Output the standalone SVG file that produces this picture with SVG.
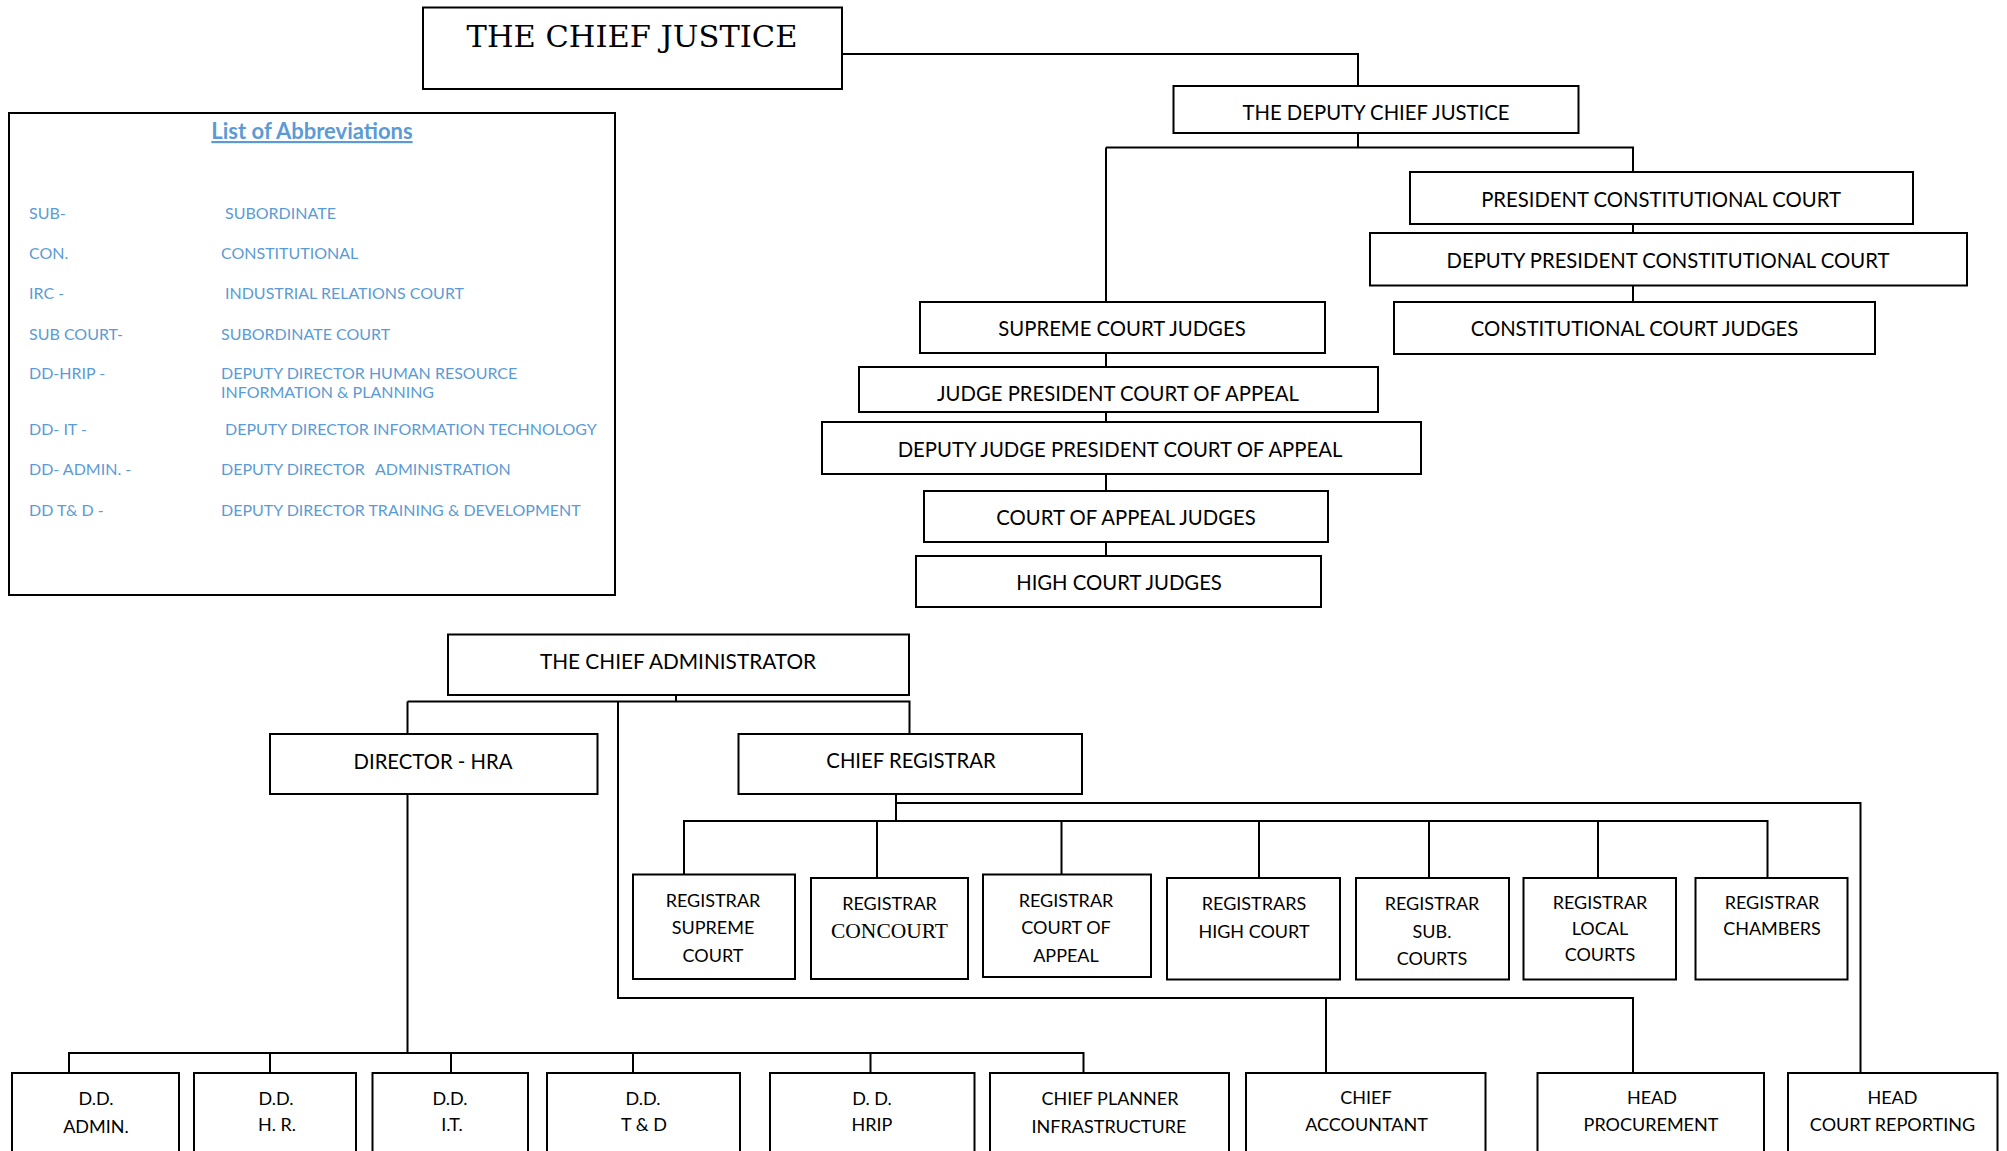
<svg xmlns="http://www.w3.org/2000/svg" width="2007" height="1151" viewBox="0 0 2007 1151">
<style>
.box{fill:#fff;stroke:#000;stroke-width:2}
.c{fill:none;stroke:#000;stroke-width:2}
.t{font-family:Lato,"Open Sans",sans-serif;font-size:20.3px;text-anchor:middle;fill:#000}
.ca{font-size:20.8px}
.s{font-family:Lato,"Open Sans",sans-serif;font-size:18px;text-anchor:middle;fill:#000}
.cj{font-family:"DejaVu Serif","Liberation Serif",serif;font-size:30.5px;text-anchor:middle;fill:#000}
.serif{font-family:"Liberation Serif",serif;font-size:21.5px}
.ab{font-family:Lato,"Open Sans",sans-serif;font-size:16px;fill:#5b9bd5}
.abt{font-family:Lato,"Open Sans",sans-serif;font-size:22px;font-weight:bold;fill:#5b9bd5;text-anchor:middle;text-decoration:underline}
</style>
<rect width="2007" height="1151" fill="#fff"/>
<g id="connectors">
<path class="c" d="M842 54H1358V86"/>
<path class="c" d="M1358 133V147.5M1106 147.5H1633V172M1106 147.5V302"/>
<path class="c" d="M1633 224V233M1633 285V302"/>
<path class="c" d="M1106 353V367M1106 412V422M1106 474V491M1106 542V556"/>
<path class="c" d="M676 695V701.5M407.5 701.5H909.5V734M407.5 701.5V734M618 701.5V998H1633V1073M1326 998V1073"/>
<path class="c" d="M407.5 794V1053M69 1073V1053H1083.5V1073M270 1053V1073M451 1053V1073M633 1053V1073M870.5 1053V1073"/>
<path class="c" d="M896 794V821M896 803H1860.5V1073M684 874.5V821H1767.5V878M877 821V878M1061.5 821V874.5M1259 821V878M1429 821V878M1598 821V878"/>
</g>
<g id="chief-justice"><rect class="box" x="423" y="7.5" width="419" height="81.5"/><text class="cj" x="632" y="47">THE CHIEF JUSTICE</text></g>
<g id="abbreviations">
<rect class="box" x="9" y="113" width="606" height="482"/>
<text class="abt" x="312" y="139">List of Abbreviations</text>
<text class="ab" x="29" y="219">SUB-</text><text class="ab" x="225" y="219">SUBORDINATE</text>
<text class="ab" x="29" y="259">CON.</text><text class="ab" x="221" y="259">CONSTITUTIONAL</text>
<text class="ab" x="29" y="299">IRC -</text><text class="ab" x="225" y="299">INDUSTRIAL RELATIONS COURT</text>
<text class="ab" x="29" y="339.5">SUB COURT-</text><text class="ab" x="221" y="339.5">SUBORDINATE COURT</text>
<text class="ab" x="29" y="379">DD-HRIP -</text><text class="ab" x="221" y="379">DEPUTY DIRECTOR HUMAN RESOURCE</text>
<text class="ab" x="221" y="398">INFORMATION &amp; PLANNING</text>
<text class="ab" x="29" y="435">DD- IT -</text><text class="ab" x="225" y="435">DEPUTY DIRECTOR INFORMATION TECHNOLOGY</text>
<text class="ab" x="29" y="475">DD- ADMIN. -</text><text class="ab" x="221" y="475">DEPUTY DIRECTOR<tspan x="375">ADMINISTRATION</tspan></text>
<text class="ab" x="29" y="515.5">DD T&amp; D -</text><text class="ab" x="221" y="515.5">DEPUTY DIRECTOR TRAINING &amp; DEVELOPMENT</text>
</g>
<g id="deputy-chief-justice"><rect class="box" x="1173.5" y="86" width="405" height="47"/><text class="t" x="1376" y="120">THE DEPUTY CHIEF JUSTICE</text></g>
<g id="president-con-court"><rect class="box" x="1410" y="172" width="503" height="52"/><text class="t" x="1661" y="207">PRESIDENT CONSTITUTIONAL COURT</text></g>
<g id="deputy-president-con-court"><rect class="box" x="1370" y="233" width="597" height="52.5"/><text class="t" x="1668" y="268">DEPUTY PRESIDENT CONSTITUTIONAL COURT</text></g>
<g id="con-court-judges"><rect class="box" x="1394" y="302" width="481" height="52"/><text class="t" x="1634.5" y="336">CONSTITUTIONAL COURT JUDGES</text></g>
<g id="supreme-court-judges"><rect class="box" x="920" y="302" width="405" height="51"/><text class="t" x="1122" y="336">SUPREME COURT JUDGES</text></g>
<g id="judge-president-coa"><rect class="box" x="859" y="367" width="519" height="45"/><text class="t" x="1118" y="401">JUDGE PRESIDENT COURT OF APPEAL</text></g>
<g id="deputy-judge-president-coa"><rect class="box" x="822" y="422" width="599" height="52"/><text class="t" x="1120" y="457">DEPUTY JUDGE PRESIDENT COURT OF APPEAL</text></g>
<g id="coa-judges"><rect class="box" x="924" y="491" width="404" height="51"/><text class="t" x="1126" y="524.5">COURT OF APPEAL JUDGES</text></g>
<g id="high-court-judges"><rect class="box" x="916" y="556" width="405" height="51"/><text class="t" x="1119" y="590">HIGH COURT JUDGES</text></g>
<g id="chief-administrator"><rect class="box" x="448" y="634.5" width="461" height="60.5"/><text class="t ca" x="678" y="669">THE CHIEF ADMINISTRATOR</text></g>
<g id="director-hra"><rect class="box" x="270" y="734" width="327.5" height="60"/><text class="t" x="433" y="769">DIRECTOR - HRA</text></g>
<g id="chief-registrar"><rect class="box" x="738.5" y="734" width="343.5" height="60"/><text class="t" x="911" y="768">CHIEF REGISTRAR</text></g>
<g id="reg-supreme"><rect class="box" x="633" y="874.5" width="162" height="104.5"/><text class="s" x="713" y="906.5">REGISTRAR</text><text class="s" x="713" y="934">SUPREME</text><text class="s" x="713" y="962">COURT</text></g>
<g id="reg-concourt"><rect class="box" x="811" y="878" width="157" height="101"/><text class="s" x="889.5" y="910">REGISTRAR</text><text class="s serif" x="889.5" y="937.5">CONCOURT</text></g>
<g id="reg-coa"><rect class="box" x="983" y="874.5" width="168" height="102.5"/><text class="s" x="1066" y="906.5">REGISTRAR</text><text class="s" x="1066" y="934">COURT OF</text><text class="s" x="1066" y="962">APPEAL</text></g>
<g id="reg-high-court"><rect class="box" x="1167" y="878" width="173" height="101.5"/><text class="s" x="1254" y="910">REGISTRARS</text><text class="s" x="1254" y="937.5">HIGH COURT</text></g>
<g id="reg-sub-courts"><rect class="box" x="1356" y="878" width="153" height="101.5"/><text class="s" x="1432" y="910">REGISTRAR</text><text class="s" x="1432" y="938">SUB.</text><text class="s" x="1432" y="965">COURTS</text></g>
<g id="reg-local-courts"><rect class="box" x="1523.5" y="878" width="152.5" height="101.5"/><text class="s" x="1600" y="909">REGISTRAR</text><text class="s" x="1600" y="935">LOCAL</text><text class="s" x="1600" y="961">COURTS</text></g>
<g id="reg-chambers"><rect class="box" x="1695.5" y="878" width="152" height="101.5"/><text class="s" x="1772" y="909">REGISTRAR</text><text class="s" x="1772" y="935">CHAMBERS</text></g>
<g id="dd-admin"><rect class="box" x="12" y="1073" width="167" height="100"/><text class="s" x="96" y="1105">D.D.</text><text class="s" x="96" y="1133">ADMIN.</text></g>
<g id="dd-hr"><rect class="box" x="194" y="1073" width="162" height="100"/><text class="s" x="276" y="1105">D.D.</text><text class="s" x="277" y="1131">H. R.</text></g>
<g id="dd-it"><rect class="box" x="372.5" y="1073" width="155.5" height="100"/><text class="s" x="450" y="1105">D.D.</text><text class="s" x="452" y="1131">I.T.</text></g>
<g id="dd-td"><rect class="box" x="547" y="1073" width="193" height="100"/><text class="s" x="643" y="1105">D.D.</text><text class="s" x="644" y="1131">T &amp; D</text></g>
<g id="dd-hrip"><rect class="box" x="770" y="1073" width="204.5" height="100"/><text class="s" x="872" y="1105">D. D.</text><text class="s" x="872" y="1131">HRIP</text></g>
<g id="chief-planner"><rect class="box" x="990" y="1073" width="239" height="100"/><text class="s" x="1110" y="1105">CHIEF PLANNER</text><text class="s" x="1109" y="1133">INFRASTRUCTURE</text></g>
<g id="chief-accountant"><rect class="box" x="1246" y="1073" width="239.5" height="100"/><text class="s" x="1366" y="1104">CHIEF</text><text class="s" x="1366.5" y="1131">ACCOUNTANT</text></g>
<g id="head-procurement"><rect class="box" x="1537.5" y="1073" width="226.5" height="100"/><text class="s" x="1652" y="1104">HEAD</text><text class="s" x="1651" y="1131">PROCUREMENT</text></g>
<g id="head-court-reporting"><rect class="box" x="1788" y="1073" width="209.5" height="100"/><text class="s" x="1892.5" y="1104">HEAD</text><text class="s" x="1892.5" y="1131">COURT REPORTING</text></g>
</svg>
